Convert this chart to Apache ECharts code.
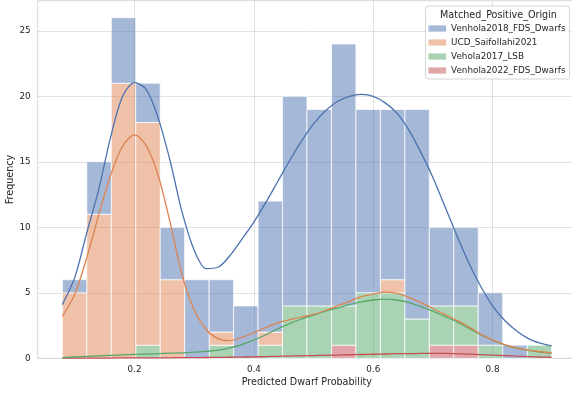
<!DOCTYPE html>
<html><head><meta charset="utf-8">
<script src="https://cdn.jsdelivr.net/npm/echarts@6/dist/echarts.min.js"></script>
<style>html,body{margin:0;padding:0;background:#fff}#c{width:572px;height:396px}</style>
</head><body><div id="c"></div>
<script>
// ---- data ----
const binEdges = [0.079,0.120,0.161,0.202,0.243,0.284,0.325,0.366,0.407,0.448,0.489,0.530,0.571,0.612,0.653,0.694,0.735,0.776,0.817,0.858,0.899];
const seriesNames = ['Venhola2018_FDS_Dwarfs','UCD_Saifollahi2021','Vehola2017_LSB','Venhola2022_FDS_Dwarfs'];
const countsVenhola2018 = [1,4,5,3,4,6,4,4,10,16,15,20,14,13,16,6,6,4,1,0];
const countsUCD        = [5,11,21,17,6,0,1,0,1,0,0,0,0,1,0,0,0,0,0,0];
const countsVehola2017 = [0,0,0,1,0,0,1,0,1,4,4,3,5,5,3,3,3,1,0,1];
const countsVenhola2022= [0,0,0,0,0,0,0,0,0,0,0,1,0,0,0,1,1,0,0,0];
// stacked KDE curves (cumulative, as drawn)
const kdeX = [0.079,0.10,0.12,0.14,0.16,0.18,0.20,0.22,0.24,0.26,0.28,0.30,0.32,0.34,0.36,0.38,0.40,0.42,0.44,0.46,0.48,0.50,0.52,0.54,0.56,0.58,0.60,0.62,0.64,0.66,0.68,0.70,0.72,0.74,0.76,0.78,0.80,0.82,0.84,0.86,0.88,0.899];
const kdeVenhola2018 = [4.1,6.2,9.6,12.9,16.9,20.0,21.05,20.5,18.3,15.0,11.1,8.25,6.85,6.95,7.85,9.1,10.4,11.9,13.5,15.1,16.6,17.9,18.9,19.6,20.0,20.15,20.0,19.5,18.7,17.4,15.7,13.8,11.6,9.4,7.3,5.5,4.0,2.9,2.1,1.5,1.15,0.94];
const kdeUCD = [3.2,4.9,7.7,10.95,14.0,16.2,17.05,16.2,13.9,10.3,6.3,3.7,2.2,1.5,1.35,1.6,1.95,2.35,2.7,2.95,3.15,3.35,3.65,4.0,4.35,4.7,4.9,5.05,4.95,4.65,4.25,3.8,3.35,2.9,2.4,1.85,1.4,1.05,0.8,0.62,0.5,0.42];
const kdeVehola2017 = [0.05,0.1,0.14,0.18,0.22,0.26,0.3,0.33,0.36,0.39,0.42,0.47,0.53,0.62,0.8,1.05,1.4,1.8,2.25,2.65,3.0,3.3,3.6,3.85,4.1,4.3,4.45,4.52,4.45,4.25,3.95,3.6,3.2,2.8,2.3,1.8,1.38,1.03,0.78,0.6,0.48,0.4];
const kdeVenhola2022 = [0.01,0.01,0.02,0.02,0.02,0.03,0.03,0.03,0.04,0.04,0.05,0.05,0.06,0.07,0.08,0.09,0.11,0.13,0.15,0.17,0.19,0.21,0.23,0.25,0.27,0.29,0.31,0.33,0.35,0.36,0.37,0.37,0.37,0.35,0.32,0.28,0.24,0.2,0.16,0.13,0.1,0.08];
const xTicks = [0.2,0.4,0.6,0.8];
const yTicks = [0,5,10,15,20,25];

// ---- styling ----
const lineColors = ['#4c72b0','#dd8452','#55a868','#c44e52'];
const barColors = ['rgba(76,114,176,0.5)','rgba(221,132,82,0.5)','rgba(85,168,104,0.5)','rgba(196,78,82,0.5)'];
const FONT = 'DejaVu Sans';
const TXT = '#262626';

// stacking bottom->top: Venhola2022, Vehola2017, UCD, Venhola2018
const countsByName = [countsVenhola2018, countsUCD, countsVehola2017, countsVenhola2022];
const stackOrder = [3,2,1,0];
const base = new Array(countsVenhola2018.length).fill(0);
const barData = [[],[],[],[]];
stackOrder.forEach(function(si){
  countsByName[si].forEach(function(c,i){
    barData[si].push([binEdges[i], binEdges[i+1], base[i], base[i]+c]);
    base[i] += c;
  });
});
const kdeByName = [kdeVenhola2018, kdeUCD, kdeVehola2017, kdeVenhola2022];

function renderBar(params, api){
  const x0 = api.value(0), x1 = api.value(1), y0 = api.value(2), y1 = api.value(3);
  if (!(y1 > y0)) return null;
  const a = api.coord([x0, y1]), b = api.coord([x1, y0]);
  return {type:'rect', shape:{x:a[0], y:a[1], width:b[0]-a[0], height:b[1]-a[1]},
    style:{fill: api.visual('color'), stroke:'rgba(255,255,255,0.95)', lineWidth:0.8}};
}

const series = [];
stackOrder.forEach(function(si){
  series.push({type:'custom', name:seriesNames[si], renderItem:renderBar, data:barData[si],
    encode:{x:[0,1], y:[2,3]}, itemStyle:{color:barColors[si]}, z:2, silent:true});
});
[3,2,1,0].forEach(function(si){
  series.push({type:'line', name:'kde_'+seriesNames[si], data:kdeX.map(function(x,i){return [x, kdeByName[si][i]];}),
    showSymbol:false, smooth:0.3, lineStyle:{color:lineColors[si], width:1.3}, itemStyle:{color:lineColors[si]}, z:5, silent:true});
});

const chart = echarts.init(document.getElementById('c'), null, {renderer:'canvas'});
chart.setOption({
  animation:false,
  backgroundColor:'#ffffff',
  grid:{left:37.7, right:-4, top:0.7, bottom:37.7, containLabel:false, outerBoundsMode:'none', show:true, borderColor:'#cccccc', borderWidth:0.8, backgroundColor:'transparent'},
  xAxis:{type:'value', min:0.0377, max:0.9398,
    name:'Predicted Dwarf Probability', nameLocation:'middle', nameGap:19, nameMoveOverlap:false,
    nameTextStyle:{fontFamily:FONT, fontSize:9.6, color:TXT},
    axisLine:{show:false}, axisTick:{show:false, customValues:xTicks},
    axisLabel:{customValues:xTicks, fontFamily:FONT, fontSize:8.8, color:TXT, margin:7, formatter:function(v){return v.toFixed(1);}},
    splitLine:{show:true, lineStyle:{color:'#d9d9d9', width:0.8}}},
  yAxis:{type:'value', min:0, max:27.3,
    name:'Frequency', nameLocation:'middle', nameGap:22, nameMoveOverlap:false,
    nameTextStyle:{fontFamily:FONT, fontSize:9.6, color:TXT},
    axisLine:{show:false}, axisTick:{show:false, customValues:yTicks},
    axisLabel:{customValues:yTicks, fontFamily:FONT, fontSize:8.8, color:TXT, margin:7},
    splitLine:{show:true, lineStyle:{color:'#d9d9d9', width:0.8}}},
  legend:{orient:'vertical', left:425.5, top:6, padding:[18,4,4,3], itemGap:5, itemWidth:17.6, itemHeight:6.2,
    backgroundColor:'rgba(255,255,255,0.8)', borderColor:'#cccccc', borderWidth:0.8, borderRadius:2.5,
    textStyle:{fontFamily:FONT, fontSize:8.8, color:TXT},
    data:seriesNames.map(function(n){return {name:n, icon:'rect'};}), selectedMode:false},
  graphic:[{type:'text', x:498.5, y:15, z:100, style:{text:'Matched_Positive_Origin', fontFamily:FONT, fontSize:9.6, fill:TXT, textAlign:'center', textVerticalAlign:'middle'}}],
  series:series
});
</script></body></html>
